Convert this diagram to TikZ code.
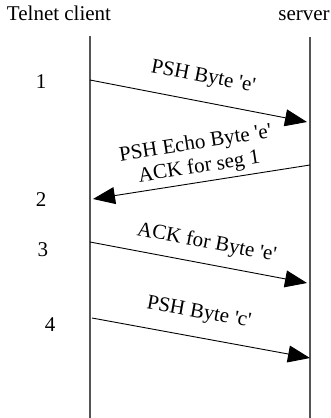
\documentclass[tikz,border=0pt]{standalone}
\usepackage{fontspec}
\setmainfont{Liberation Serif}
\definecolor{lifegray}{RGB}{85,85,85}
\usetikzlibrary{arrows.meta}

\begin{document}
\begin{tikzpicture}[x=1pt,y=-1pt,
    every node/.style={font=\fontsize{21}{24}\selectfont},
    lifeline/.style={lifegray,line width=1.4pt},
    msg/.style={-{Triangle[length=22pt,width=17pt]},line width=0.9pt},
    lbl/.style={sloped,align=center}]
  \useasboundingbox (0,0) rectangle (330,418);
  % the two ends
  \node[anchor=base] (client) at (59,20) {Telnet client};
  \node[anchor=base] (server) at (304,20) {server};
  \coordinate (ctop) at (90,36);  \coordinate (cbot) at (90,418);
  \coordinate (stop) at (310,37); \coordinate (sbot) at (310,418);
  \draw[lifeline] (ctop) -- (cbot);
  \draw[lifeline] (stop) -- (sbot);
  % step numbers
  \foreach \n/\x/\y in {1/41/82, 2/41/200, 3/43/250, 4/50/325}
    \node (step\n) at (\x,\y) {\n};
  % segments
  \coordinate (c1) at (90,80);  \coordinate (s1) at (307,122);
  \coordinate (s2) at (310,165); \coordinate (c2) at (93,199);
  \coordinate (c3) at (90,242); \coordinate (s3) at (307,283);
  \coordinate (c4) at (92,318); \coordinate (s4) at (310,358);
  \draw[msg] (c1) -- (s1) node[lbl,pos=0.5,above=11pt] {PSH Byte \textquotesingle e\textquotesingle};
  \draw[msg] (s2) -- (c2) node[lbl,pos=0.5,above=1pt] {PSH Echo Byte \textquotesingle e\textquotesingle\\ACK for seg 1};
  \draw[msg] (c3) -- (s3) node[lbl,pos=0.52,above=7pt] {ACK for Byte \textquotesingle e\textquotesingle};
  \draw[msg] (c4) -- (s4) node[lbl,pos=0.47,above=11pt] {PSH Byte \textquotesingle c\textquotesingle};
\end{tikzpicture}
\end{document}
